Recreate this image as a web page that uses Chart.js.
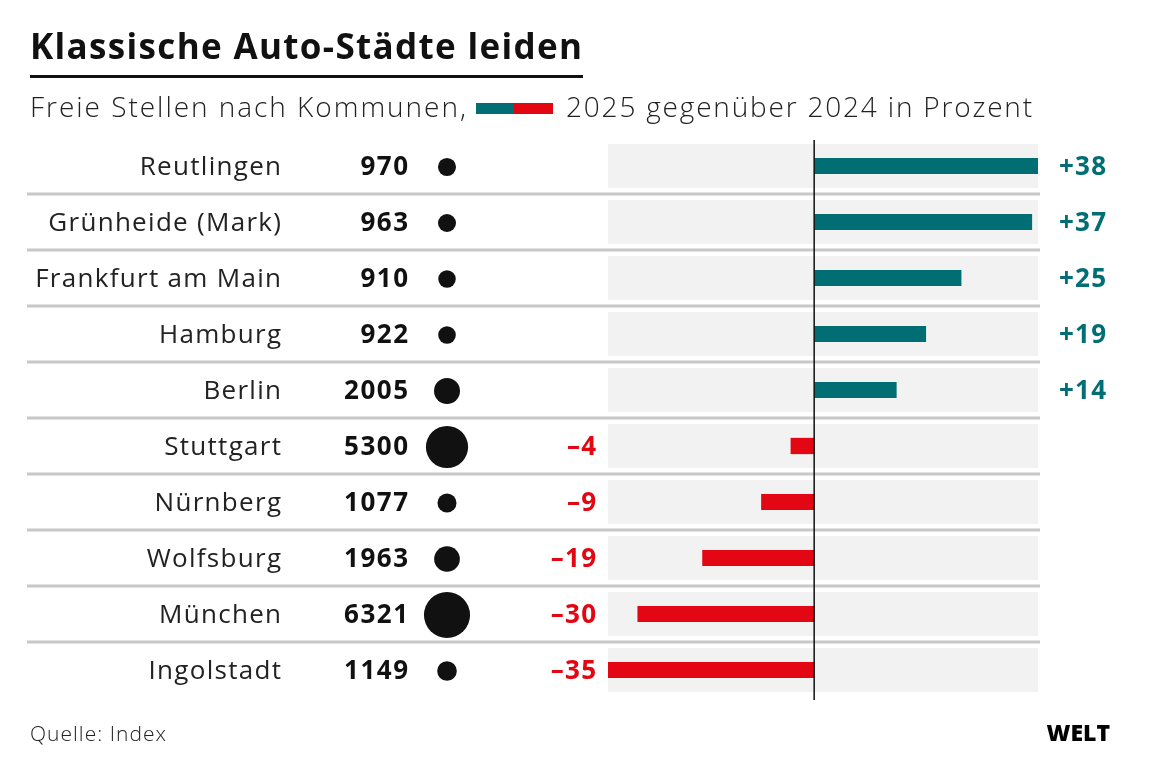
<!DOCTYPE html>
<html>
<head>
<meta charset="utf-8">
<script src="https://cdn.jsdelivr.net/npm/chart.js@4"></script>
<style>
  html, body { margin: 0; padding: 0; background: #fff; }
  canvas { display: block; }
</style>
</head>
<body>
<canvas id="myChart" width="1169" height="777"></canvas>
<script>
// Cities, open positions and change 2025 vs 2024 in percent
var cities = ["Reutlingen", "Grünheide (Mark)", "Frankfurt am Main", "Hamburg", "Berlin",
              "Stuttgart", "Nürnberg", "Wolfsburg", "München", "Ingolstadt"];
var stellen = [970, 963, 910, 922, 2005, 5300, 1077, 1963, 6321, 1149];
var change = [38, 37, 25, 19, 14, -4, -9, -19, -30, -35];
var axisMin = -35;
var axisMax = 38;

var TEAL = "#006e73";
var RED = "#e30613";
var FONT = "'Open Sans', sans-serif";

// grey band behind each row spans the whole axis
var band = cities.map(function () { return [axisMin, axisMax]; });

// draw text stretched to a target width via letter spacing
function fitText(c, txt, x, y, width) {
  c.letterSpacing = "0px";
  var w = c.measureText(txt).width;
  var n = txt.length - 1;
  var ls = n > 0 ? (width - w) / n : 0;
  c.letterSpacing = ls.toFixed(2) + "px";
  c.fillText(txt, x + (c.textAlign === "right" ? ls : 0), y);
  c.letterSpacing = "0px";
}

function spaced(c, txt, x, y, ls) {
  c.letterSpacing = ls + "px";
  c.fillText(txt, x + (c.textAlign === "right" ? ls : 0), y);
  c.letterSpacing = "0px";
}

var overlay = {
  id: "overlay",
  beforeDraw: function (chart) {
    var c = chart.ctx;
    c.save();
    c.fillStyle = "#fff";
    c.fillRect(0, 0, chart.width, chart.height);

    // title
    c.fillStyle = "#111";
    c.font = "bold 35px " + FONT;
    c.textBaseline = "alphabetic";
    c.textAlign = "left";
    fitText(c, "Klassische Auto-Städte leiden", 30, 59, 552);
    c.fillRect(30, 75, 553, 3);

    // subtitle with colour swatch
    c.font = "300 28px " + FONT;
    c.fillStyle = "#222";
    fitText(c, "Freie Stellen nach Kommunen,", 30, 117, 436);
    c.fillStyle = TEAL;
    c.fillRect(476, 103, 38, 11);
    c.fillStyle = RED;
    c.fillRect(514, 103, 39, 11);
    c.fillStyle = "#222";
    fitText(c, "2025 gegenüber 2024 in Prozent", 566, 117, 466);

    // row separators
    var y = chart.scales.y;
    c.fillStyle = "#c8c8c8";
    for (var i = 0; i < cities.length - 1; i++) {
      var mid = (y.getPixelForValue(i) + y.getPixelForValue(i + 1)) / 2;
      c.fillRect(27, mid - 1.5, 1013, 3);
    }

    // footer
    c.fillStyle = "#222";
    c.font = "300 21px " + FONT;
    fitText(c, "Quelle: Index", 30, 741, 136);
    c.fillStyle = "#000";
    c.font = "800 23px " + FONT;
    c.textAlign = "right";
    c.fillText("WELT", 1110, 741);
    c.restore();
  },
  afterDatasetsDraw: function (chart) {
    var c = chart.ctx;
    var x = chart.scales.x;
    var y = chart.scales.y;
    c.save();
    // zero line
    var x0 = x.getPixelForValue(0);
    c.strokeStyle = "#111";
    c.lineWidth = 1.5;
    c.beginPath();
    c.moveTo(x0, chart.chartArea.top + 2);
    c.lineTo(x0, chart.chartArea.bottom + 2);
    c.stroke();

    c.textBaseline = "middle";
    for (var i = 0; i < cities.length; i++) {
      var py = y.getPixelForValue(i);
      var ty = py + 2;
      // city name
      c.fillStyle = "#222";
      c.font = "400 26px " + FONT;
      c.textAlign = "right";
      spaced(c, cities[i], 281, ty, 1.3);
      // number
      c.fillStyle = "#111";
      c.font = "bold 26px " + FONT;
      spaced(c, String(stellen[i]), 408, ty, 1.5);
      // dot, area proportional to value
      var r = 0.29 * Math.sqrt(stellen[i]);
      c.beginPath();
      c.arc(447, py + 1, r, 0, Math.PI * 2);
      c.fill();
      // value label
      c.font = "bold 26px " + FONT;
      if (change[i] >= 0) {
        c.fillStyle = TEAL;
        c.textAlign = "left";
        spaced(c, "+" + change[i], 1059, ty, 1.2);
      } else {
        c.fillStyle = RED;
        c.textAlign = "right";
        spaced(c, "\u2013" + Math.abs(change[i]), 596, ty, 1.2);
      }
    }
    c.restore();
  }
};

var ctx = document.getElementById("myChart");
var myChart = new Chart(ctx, {
  type: "bar",
  data: {
    labels: cities,
    datasets: [
      {
        data: change,
        backgroundColor: change.map(function (v) { return v >= 0 ? TEAL : RED; }),
        barPercentage: 0.29,
        categoryPercentage: 1,
        order: 1
      },
      {
        data: band,
        backgroundColor: "#f2f2f2",
        barPercentage: 0.79,
        categoryPercentage: 1,
        order: 2
      }
    ]
  },
  options: {
    indexAxis: "y",
    responsive: false,
    animation: false,
    layout: { padding: { left: 608, right: 131, top: 138, bottom: 79 } },
    plugins: { legend: { display: false }, tooltip: { enabled: false } },
    scales: {
      x: { display: false, min: axisMin, max: axisMax, stacked: false },
      y: { display: false, stacked: true }
    }
  },
  plugins: [overlay]
});
</script>
</body>
</html>
